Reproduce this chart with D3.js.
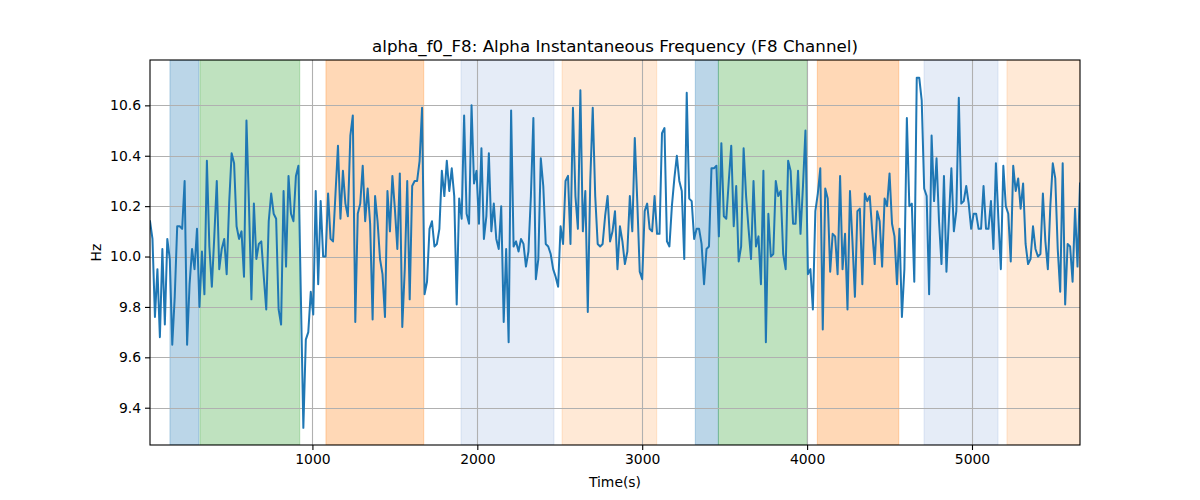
<!DOCTYPE html>
<html>
<head>
<meta charset="utf-8">
<script src="https://cdn.jsdelivr.net/npm/d3@7"></script>
<style>
  html, body { margin: 0; padding: 0; background: #fff; }
  svg { display: block; font-family: "DejaVu Sans", sans-serif; }
</style>
</head>
<body>
<svg id="chart" width="1200" height="500"></svg>
<script>
// ---- data ----
const titleText = "alpha_f0_F8: Alpha Instantaneous Frequency (F8 Channel)";
const xLabel = "Time(s)";
const yLabel = "Hz";
const timeStart = 15;
const timeStep = 15;
const freqValues = [
  10.14, 10.07, 9.76, 9.95, 9.68, 10.03, 9.73, 10.07, 9.99, 9.65,
  9.84, 10.12, 10.12, 10.11, 10.30, 9.65, 9.89, 10.03, 9.95, 10.11,
  9.80, 10.02, 9.85, 10.38, 10.04, 9.88, 10.08, 10.30, 9.95, 10.03,
  10.07, 9.93, 10.21, 10.41, 10.37, 10.12, 10.07, 10.10, 9.92, 10.54,
  10.21, 9.83, 10.21, 9.99, 10.05, 10.06, 9.92, 9.79, 10.14, 10.25,
  10.17, 10.15, 9.79, 9.73, 10.26, 9.96, 10.32, 10.17, 10.14, 10.32,
  10.36, 9.84, 9.32, 9.67, 9.70, 9.86, 9.77, 10.26, 9.89, 10.22,
  10.00, 10.00, 10.25, 10.07, 10.06, 10.25, 10.44, 10.15, 10.34, 10.21,
  10.16, 10.48, 10.56, 9.74, 10.17, 10.21, 10.36, 10.14, 10.27, 10.13,
  9.75, 10.24, 10.14, 9.99, 9.93, 9.76, 10.26, 10.10, 10.32, 10.19,
  10.03, 10.33,
  9.72, 9.95, 10.30, 9.83, 10.28, 10.30, 10.30, 10.38, 10.59, 9.85,
  9.90, 10.11, 10.14, 10.04, 10.05, 10.11, 10.34, 10.24, 10.38, 10.26,
  10.35, 10.24, 9.81, 10.23,
  10.15, 10.56, 10.17, 10.13, 10.60, 10.29, 10.34, 10.13, 10.43, 10.07,
  10.16, 10.41, 10.10, 10.21, 10.07, 10.03, 10.20, 9.74, 10.03, 9.66,
  10.58, 10.04, 10.06, 10.02, 10.07, 10.05, 9.96, 10.02, 10.24, 10.55,
  9.91, 9.99, 10.39, 10.28, 10.05, 10.04, 10.01, 9.95, 9.92, 9.88,
  10.12, 10.05, 10.30, 10.32, 10.05, 10.59, 10.24, 10.11, 10.66, 10.10,
  10.26, 9.78, 10.30, 10.59, 10.24, 10.05, 10.04, 10.05, 10.16, 10.24,
  10.06, 10.10, 10.18,
  9.95, 10.12, 10.06, 9.97, 10.02, 10.24, 10.10, 10.47, 10.22, 9.94,
  9.91, 10.18, 10.21, 10.11, 10.10, 10.24, 10.09, 10.09, 10.49, 10.51,
  10.06, 10.04, 10.20, 10.31, 10.40, 10.30, 10.26, 9.99, 10.65, 10.23,
  10.22, 10.07, 10.11, 10.11, 10.05, 9.89, 10.03, 10.04, 10.35, 10.35,
  10.36, 10.08, 10.45, 10.16, 10.15, 10.30, 10.44, 10.12, 10.28, 9.98,
  10.04, 10.43, 10.24, 10.11, 9.99, 10.30, 10.04, 10.08, 9.89, 10.34,
  9.66, 10.17,
  10.00, 10.01, 10.30, 10.24, 10.26, 10.01, 9.95, 10.38, 10.34, 10.13,
  10.13, 10.34, 10.09, 10.28, 10.50, 9.93, 9.95, 9.79, 10.18, 10.25,
  10.35, 9.71, 10.27, 10.23, 9.94, 10.09, 10.08, 9.93, 10.32, 9.95,
  10.09, 9.79, 10.26, 10.06, 9.84, 10.18, 10.19, 9.89, 10.25, 10.22,
  10.24, 10.10, 9.97, 10.18, 10.14, 9.96, 10.23, 10.20, 10.33, 10.13,
  10.08, 9.89, 10.11, 9.76, 9.95, 10.55, 10.20, 10.21, 9.90, 10.71,
  10.71, 10.62, 10.27,
  10.24, 9.85, 10.48, 10.22, 10.39, 10.14, 9.97, 10.32, 9.94, 10.15,
  10.35, 10.10, 10.18, 10.63, 10.21, 10.22, 10.28, 10.21, 10.11, 10.17,
  10.17, 10.11, 10.11, 10.28, 10.11, 10.11, 10.22, 10.03, 10.37, 10.15,
  9.95, 10.36, 10.20, 10.17, 9.98, 10.36, 10.26, 10.31, 10.19, 10.29,
  10.05, 9.97, 9.99, 10.12, 10.03, 10.00, 10.01, 10.25, 10.06, 9.95,
  10.20, 10.37, 10.31, 10.03, 9.86, 10.37, 9.81, 10.05, 10.04, 9.90,
  10.19, 9.96, 10.29
];
const spanStarts = [136, 318, 1082, 1901, 2514, 3322, 3462, 4062, 4709, 5212];
const spanEnds   = [312, 923, 1675, 2465, 3088, 3462, 4001, 4556, 5158, 5655];
const spanKinds  = ["blue", "green", "orange", "lightblue", "lightorange",
                    "blue", "green", "orange", "lightblue", "lightorange"];
const xTicks = [1000, 2000, 3000, 4000, 5000];
const yTicks = [9.4, 9.6, 9.8, 10.0, 10.2, 10.4, 10.6];
const yDomain = [9.252, 10.780];

// ---- styles ----
const spanStyle = {
  blue:        { color: "#1f77b4", opacity: 0.3 },
  green:       { color: "#2ca02c", opacity: 0.3 },
  orange:      { color: "#ff7f0e", opacity: 0.3 },
  lightblue:   { color: "#5082c8", opacity: 0.15 },
  lightorange: { color: "#ff7f0e", opacity: 0.17 }
};

const times = freqValues.map((v, i) => timeStart + i * timeStep);
const series = freqValues.map((v, i) => ({ t: times[i], v: v }));
const spans = spanStarts.map((s, i) => ({ s: s, e: spanEnds[i], kind: spanKinds[i] }));

const W = 1200, H = 500;
const m = { left: 150, right: 1080, top: 60, bottom: 445 };

const x = d3.scaleLinear().domain([times[0], times[times.length - 1]]).range([m.left, m.right]);
const y = d3.scaleLinear().domain(yDomain).range([m.bottom, m.top]);

const svg = d3.select("#chart");
svg.append("rect").attr("width", W).attr("height", H).attr("fill", "#fff");

const clip = svg.append("defs").append("clipPath").attr("id", "plotclip");
clip.append("rect").attr("x", m.left).attr("y", m.top)
  .attr("width", m.right - m.left).attr("height", m.bottom - m.top);

const plot = svg.append("g").attr("clip-path", "url(#plotclip)");

// spans
plot.selectAll("rect.span").data(spans).enter().append("rect")
  .attr("class", "span")
  .attr("x", d => x(d.s))
  .attr("y", m.top)
  .attr("width", d => x(d.e) - x(d.s))
  .attr("height", m.bottom - m.top)
  .attr("fill", d => spanStyle[d.kind].color)
  .attr("fill-opacity", d => spanStyle[d.kind].opacity)
  .attr("stroke", d => spanStyle[d.kind].color)
  .attr("stroke-opacity", d => spanStyle[d.kind].opacity)
  .attr("stroke-width", 1);

// grid
const grid = plot.append("g");
grid.selectAll("line.gx").data(xTicks).enter().append("line")
  .attr("x1", d => Math.round(x(d)) + 0.5).attr("x2", d => Math.round(x(d)) + 0.5)
  .attr("y1", m.top).attr("y2", m.bottom)
  .attr("stroke", "#b0b0b0").attr("stroke-width", 1.1);
grid.selectAll("line.gy").data(yTicks).enter().append("line")
  .attr("y1", d => Math.round(y(d)) + 0.5).attr("y2", d => Math.round(y(d)) + 0.5)
  .attr("x1", m.left).attr("x2", m.right)
  .attr("stroke", "#b0b0b0").attr("stroke-width", 1.1);

// line
const line = d3.line().x(d => x(d.t)).y(d => y(d.v));
plot.append("path").datum(series)
  .attr("d", line)
  .attr("fill", "none")
  .attr("stroke", "#1f77b4")
  .attr("stroke-width", 2)
  .attr("stroke-linejoin", "round")
  .attr("stroke-linecap", "square");

// frame
svg.append("rect")
  .attr("x", m.left).attr("y", m.top)
  .attr("width", m.right - m.left).attr("height", m.bottom - m.top)
  .attr("fill", "none").attr("stroke", "#000").attr("stroke-width", 1.1);

// axes
const xAxis = d3.axisBottom(x).tickValues(xTicks).tickFormat(d3.format("d"))
  .tickSizeOuter(0).tickSize(5).tickPadding(4);
const gx = svg.append("g").attr("transform", `translate(0,${m.bottom})`).call(xAxis);
gx.select(".domain").remove();
gx.selectAll("line").attr("stroke", "#000").attr("stroke-width", 1.1);
gx.selectAll("text").attr("font-size", 13.9).attr("fill", "#000")
  .attr("font-family", "DejaVu Sans, sans-serif");

const yAxis = d3.axisLeft(y).tickValues(yTicks).tickFormat(d3.format(".1f"))
  .tickSizeOuter(0).tickSize(5).tickPadding(4);
const gy = svg.append("g").attr("transform", `translate(${m.left},0)`).call(yAxis);
gy.select(".domain").remove();
gy.selectAll("line").attr("stroke", "#000").attr("stroke-width", 1.1);
gy.selectAll("text").attr("font-size", 13.9).attr("fill", "#000")
  .attr("font-family", "DejaVu Sans, sans-serif");

// labels
svg.append("text").attr("x", (m.left + m.right) / 2).attr("y", 487)
  .attr("text-anchor", "middle").attr("font-size", 13.9).attr("fill", "#000")
  .text(xLabel);
svg.append("text")
  .attr("transform", `translate(101,${(m.top + m.bottom) / 2}) rotate(-90)`)
  .attr("text-anchor", "middle").attr("font-size", 13.9).attr("fill", "#000")
  .text(yLabel);
svg.append("text").attr("x", (m.left + m.right) / 2).attr("y", 52)
  .attr("text-anchor", "middle").attr("font-size", 16.7).attr("fill", "#000")
  .text(titleText);
</script>
</body>
</html>
